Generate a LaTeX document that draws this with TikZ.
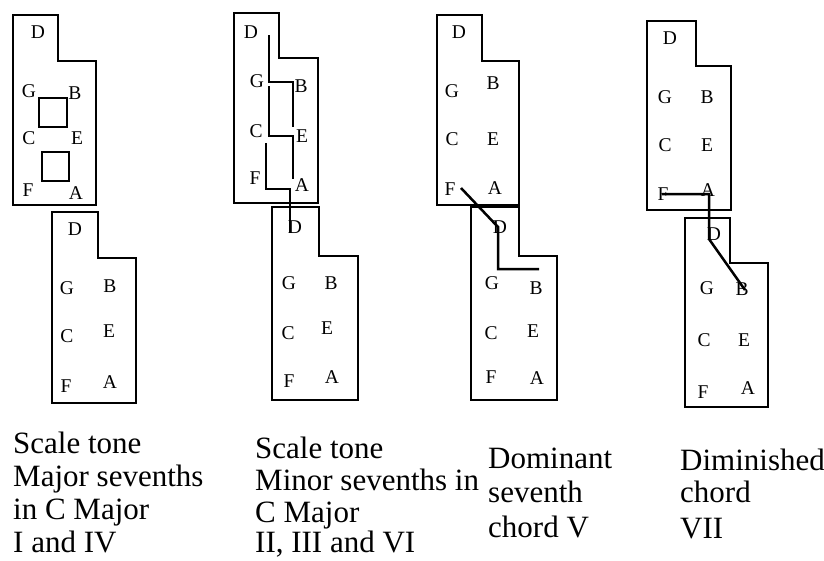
\documentclass[tikz,border=0pt]{standalone}
\usepackage{fontspec}
\setmainfont{Liberation Serif}
\begin{document}
\begin{tikzpicture}[x=1pt,y=-1pt,
  keybox/.style={draw=black,line width=2.2pt,line join=miter},
  note/.style={inner sep=0pt,font=\fontsize{19.5}{20}\selectfont},
  capline/.style={inner sep=0pt,anchor=base west,font=\fontsize{31}{34}\selectfont},
  voice/.style={draw=black,line width=2.5pt}]
\useasboundingbox (0,0) rectangle (824,560);
\fill[white] (0,0) rectangle (824,560);

% ---------- keyboard outlines ----------
\draw[keybox] (12.7,15) -- (58,15) -- (58,61) -- (96,61) -- (96,205) -- (12.7,205) -- cycle;
\draw[keybox] (52,212) -- (98,212) -- (98,258) -- (136,258) -- (136,403) -- (52,403) -- cycle;
\draw[keybox] (234,13) -- (279,13) -- (279,58) -- (318,58) -- (318,203) -- (234,203) -- cycle;
\draw[keybox] (272,207) -- (319,207) -- (319,256) -- (358,256) -- (358,400) -- (272,400) -- cycle;
\draw[keybox] (437,15) -- (482,15) -- (482,61) -- (519,61) -- (519,205) -- (437,205) -- cycle;
\draw[keybox] (471,207) -- (519,207) -- (519,256) -- (557,256) -- (557,400) -- (471,400) -- cycle;
\draw[keybox] (647,21) -- (696,21) -- (696,66) -- (731,66) -- (731,210) -- (647,210) -- cycle;
\draw[keybox] (685,218) -- (730,218) -- (730,263) -- (768,263) -- (768,407) -- (685,407) -- cycle;

% squares (panel 1)
\draw[keybox] (39,98) rectangle (67,127);
\draw[keybox] (42,152) rectangle (69,181);

% ---------- note letters ----------
% panel 1
\node[note] (p1tD) at (38,32) {D};
\node[note] (p1tG) at (29,91) {G};
\node[note] (p1tB) at (75,93) {B};
\node[note] (p1tC) at (29,138) {C};
\node[note] (p1tE) at (77,138) {E};
\node[note] (p1tF) at (28,190) {F};
\node[note] (p1tA) at (76,193) {A};
\node[note] (p1bD) at (75,229) {D};
\node[note] (p1bG) at (67,288) {G};
\node[note] (p1bB) at (110,286) {B};
\node[note] (p1bC) at (67,336) {C};
\node[note] (p1bE) at (109,331) {E};
\node[note] (p1bF) at (66,386) {F};
\node[note] (p1bA) at (110,382) {A};
% panel 2
\node[note] (p2tD) at (251,32) {D};
\node[note] (p2tG) at (257,81) {G};
\node[note] (p2tB) at (301,86) {B};
\node[note] (p2tC) at (256,131) {C};
\node[note] (p2tE) at (302,136) {E};
\node[note] (p2tF) at (255,178) {F};
\node[note] (p2tA) at (302,185) {A};
\node[note] (p2bD) at (295,227) {D};
\node[note] (p2bG) at (289,283) {G};
\node[note] (p2bB) at (331,283) {B};
\node[note] (p2bC) at (288,333) {C};
\node[note] (p2bE) at (327,328) {E};
\node[note] (p2bF) at (289,381) {F};
\node[note] (p2bA) at (332,377) {A};
% panel 3
\node[note] (p3tD) at (459,32) {D};
\node[note] (p3tG) at (452,91) {G};
\node[note] (p3tB) at (493,83) {B};
\node[note] (p3tC) at (452,139) {C};
\node[note] (p3tE) at (493,139) {E};
\node[note] (p3tF) at (450,189) {F};
\node[note] (p3tA) at (495,188) {A};
\node[note] (p3bD) at (500,227) {D};
\node[note] (p3bG) at (492,283) {G};
\node[note] (p3bB) at (536,288) {B};
\node[note] (p3bC) at (491,333) {C};
\node[note] (p3bE) at (533,331) {E};
\node[note] (p3bF) at (491,377) {F};
\node[note] (p3bA) at (537,378) {A};
% panel 4
\node[note] (p4tD) at (670,38) {D};
\node[note] (p4tG) at (665,97) {G};
\node[note] (p4tB) at (707,97) {B};
\node[note] (p4tC) at (665,145) {C};
\node[note] (p4tE) at (707,145) {E};
\node[note] (p4tF) at (663,194) {F};
\node[note] (p4tA) at (708,190) {A};
\node[note] (p4bD) at (714,234) {D};
\node[note] (p4bG) at (707,288) {G};
\node[note] (p4bB) at (742,289) {B};
\node[note] (p4bC) at (704,340) {C};
\node[note] (p4bE) at (744,340) {E};
\node[note] (p4bF) at (703,392) {F};
\node[note] (p4bA) at (748,388) {A};

% ---------- voice-leading lines ----------
% panel 2
\coordinate (v1a) at (269,35);  \coordinate (v1b) at (269,82);
\coordinate (v1c) at (293,82);  \coordinate (v1d) at (293,127);
\coordinate (v2a) at (269,86);  \coordinate (v2b) at (269,136);
\coordinate (v2c) at (293,136); \coordinate (v2d) at (293,179);
\coordinate (v3a) at (266,143); \coordinate (v3b) at (266,189);
\coordinate (v3c) at (290,189); \coordinate (v3d) at (290,233);
\draw[voice] (v1a) -- (v1b) -- (v1c) -- (v1d);
\draw[voice] (v2a) -- (v2b) -- (v2c) -- (v2d);
\draw[voice] (v3a) -- (v3b) -- (v3c) -- (v3d);
% panel 3
\coordinate (w1) at (461,188); \coordinate (w2) at (498,227);
\coordinate (w3) at (498,269); \coordinate (w4) at (539,269);
\draw[voice] (w1) -- (w2) -- (w3) -- (w4);
% panel 4
\coordinate (u1) at (662,194); \coordinate (u2) at (709,194);
\coordinate (u3) at (709,239); \coordinate (u4) at (745,290);
\draw[voice] (u1) -- (u2) -- (u3) -- (u4);

% ---------- captions ----------
\node[capline] (c1a) at (13,453) {Scale tone};
\node[capline] (c1b) at (13,486) {Major sevenths};
\node[capline] (c1c) at (13,519) {in C Major};
\node[capline] (c1d) at (13,552) {I and IV};

\node[capline] (c2a) at (255,458) {Scale tone};
\node[capline] (c2b) at (255,490) {Minor sevenths in};
\node[capline] (c2c) at (255,522) {C Major};
\node[capline] (c2d) at (255,552) {II, III and VI};

\node[capline] (c3a) at (488,468) {Dominant};
\node[capline] (c3b) at (488,502) {seventh};
\node[capline] (c3c) at (488,537) {chord V};

\node[capline] (c4a) at (680,470) {Diminished};
\node[capline] (c4b) at (680,502) {chord};
\node[capline] (c4c) at (680,538) {VII};
\end{tikzpicture}
\end{document}
